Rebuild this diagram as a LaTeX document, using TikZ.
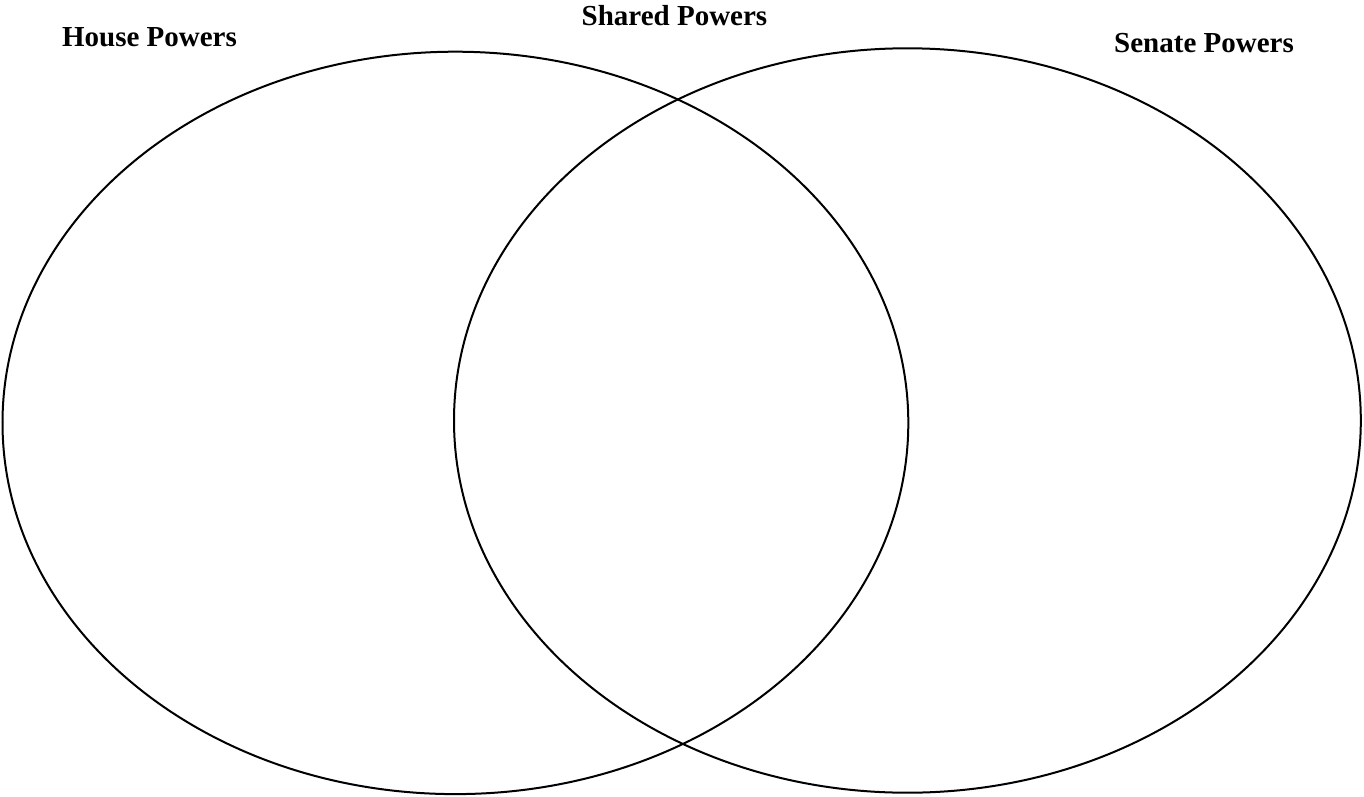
\documentclass[tikz,border=0pt]{standalone}
\usepackage{fontspec}
\setmainfont{Liberation Serif}
\begin{document}
\begin{tikzpicture}[x=1pt,y=-1pt,
  circ/.style={draw=black,line width=2pt},
  lbl/.style={font=\fontsize{29}{34}\selectfont\bfseries,anchor=base,inner sep=0pt}]
\useasboundingbox (0,0) rectangle (1364,797);
\draw[circ] (455.4,422.9) ellipse [x radius=452.9pt, y radius=371.2pt];
\draw[circ] (907.4,420.5) ellipse [x radius=453.4pt, y radius=372.2pt];
\node[lbl] (house) at (149.5,47) {House Powers};
\node[lbl] (shared) at (674.5,26) {Shared Powers};
\node[lbl] (senate) at (1204,53) {Senate Powers};
\end{tikzpicture}
\end{document}
